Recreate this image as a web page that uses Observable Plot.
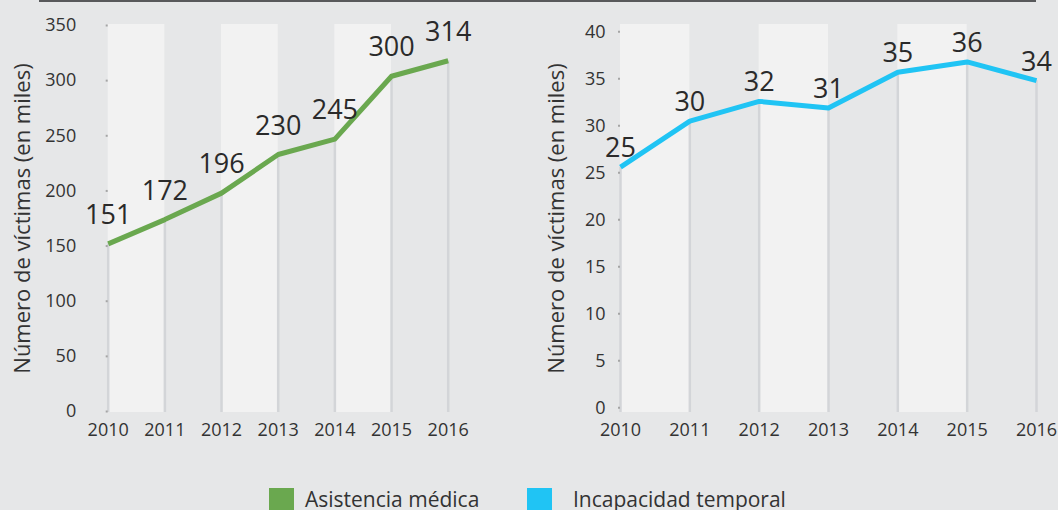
<!DOCTYPE html>
<html>
<head>
<meta charset="utf-8">
<script src="https://cdn.jsdelivr.net/npm/d3@7"></script>
<script src="https://cdn.jsdelivr.net/npm/@observablehq/plot@0.6"></script>
<style>
html, body { margin: 0; padding: 0; background: #e6e7e8; }
body { width: 1058px; height: 510px; position: relative; overflow: hidden; font-family: "Open Sans", sans-serif; }
#topline { position: absolute; left: 39px; top: 0; width: 997px; height: 2px; background: #58595b; }
#left { position: absolute; left: 0; top: 0; }
#right { position: absolute; left: 520px; top: 0; }
#legend { position: absolute; top: 487px; left: 0; width: 1058px; height: 30px; }
.item { position: absolute; top: 0; display: flex; align-items: flex-start; font-size: 21px; line-height: 25px; color: #333; white-space: nowrap; }
.item:nth-child(1) { left: 269px; }
.item:nth-child(2) { left: 527px; }
.item:nth-child(1) .sw { margin-right: 11px; }
.item:nth-child(2) .sw { margin-right: 21px; }
.sw { width: 25px; height: 25px; display: inline-block; margin-top: 1px; }
</style>
</head>
<body>
<div id="topline"></div>
<div id="left"></div>
<div id="right"></div>
<div id="legend"></div>
<script>
const years = [2010, 2011, 2012, 2013, 2014, 2015, 2016];
const asistencia = [152, 174, 198, 233, 247, 304, 318];
const asistenciaLabels = ["151", "172", "196", "230", "245", "300", "314"];
const incapacidad = [25.6, 30.5, 32.6, 31.9, 35.7, 36.8, 34.8];
const incapacidadLabels = ["25", "30", "32", "31", "35", "36", "34"];
const bandStarts = [2010, 2012, 2014];
const ticksLeft = [0, 50, 100, 150, 200, 250, 300, 350];
const ticksRight = [0, 5, 10, 15, 20, 25, 30, 35, 40];
const seriesNames = ["Asistencia médica", "Incapacidad temporal"];
const seriesColors = ["#6aa84f", "#20c4f4"];
const yLabel = "Número de víctimas (en miles)";

function chart(o) {
  const data = years.map((year, i) => ({year, value: o.values[i], label: o.labels[i]}));
  return Plot.plot({
    width: o.width,
    height: 450,
    marginLeft: o.marginLeft,
    marginRight: o.marginRight,
    marginTop: 24,
    marginBottom: 38,
    style: {background: "transparent", fontFamily: "Open Sans", fontSize: "18px", color: "#333", overflow: "visible"},
    x: {domain: [2010, 2016]},
    y: {domain: o.yDomain},
    marks: [
      Plot.rect(bandStarts, {x1: d => d, x2: d => d + 1, fill: "#f2f2f2"}),
      Plot.ruleX(data, {x: "year", y1: o.yDomain[0], y2: "value", stroke: "#d3d5d8", strokeWidth: 2.5}),
      Plot.axisY({ticks: o.ticks, tickSize: 2, tickPadding: o.tickPadding, stroke: "#a5a5a5", strokeWidth: 2, tickFormat: d => String(d), label: null, fontSize: 18, fill: "#333"}),
      Plot.text([yLabel], {frameAnchor: "left", dx: o.labelDx, rotate: -90, textAnchor: "middle", lineAnchor: "middle", fontSize: 22, fill: "#333"}),
      Plot.axisX({ticks: years, tickFormat: d => String(d), tickSize: 0, tickPadding: 11, label: null, fontSize: 18, fill: "#333"}),
      Plot.line(data, {x: "year", y: "value", stroke: o.color, strokeWidth: 5, strokeLinejoin: "round", strokeLinecap: "butt"}),
      Plot.text(data, {x: "year", y: "value", text: "label", dy: o.dy, lineAnchor: "bottom", fontSize: 27, fill: "#2a2a2a"})
    ]
  });
}

document.getElementById("left").append(chart({
  values: asistencia, labels: asistenciaLabels, color: seriesColors[0],
  width: 520, marginLeft: 107.7, marginRight: 72.3,
  yDomain: [-0.9, 350.9], ticks: ticksLeft, tickPadding: 30, labelDx: -85, dy: -20
}));

document.getElementById("right").append(chart({
  values: incapacidad, labels: incapacidadLabels, color: seriesColors[1],
  width: 538, marginLeft: 100, marginRight: 22,
  yDomain: [-0.5, 40.78], ticks: ticksRight, tickPadding: 13, labelDx: -64, dy: -10
}));

const legend = document.getElementById("legend");
seriesNames.forEach((name, i) => {
  const item = document.createElement("div");
  item.className = "item";
  const sw = document.createElement("span");
  sw.className = "sw";
  sw.style.background = seriesColors[i];
  const t = document.createElement("span");
  t.textContent = name;
  item.append(sw, t);
  legend.append(item);
});
</script>
</body>
</html>
